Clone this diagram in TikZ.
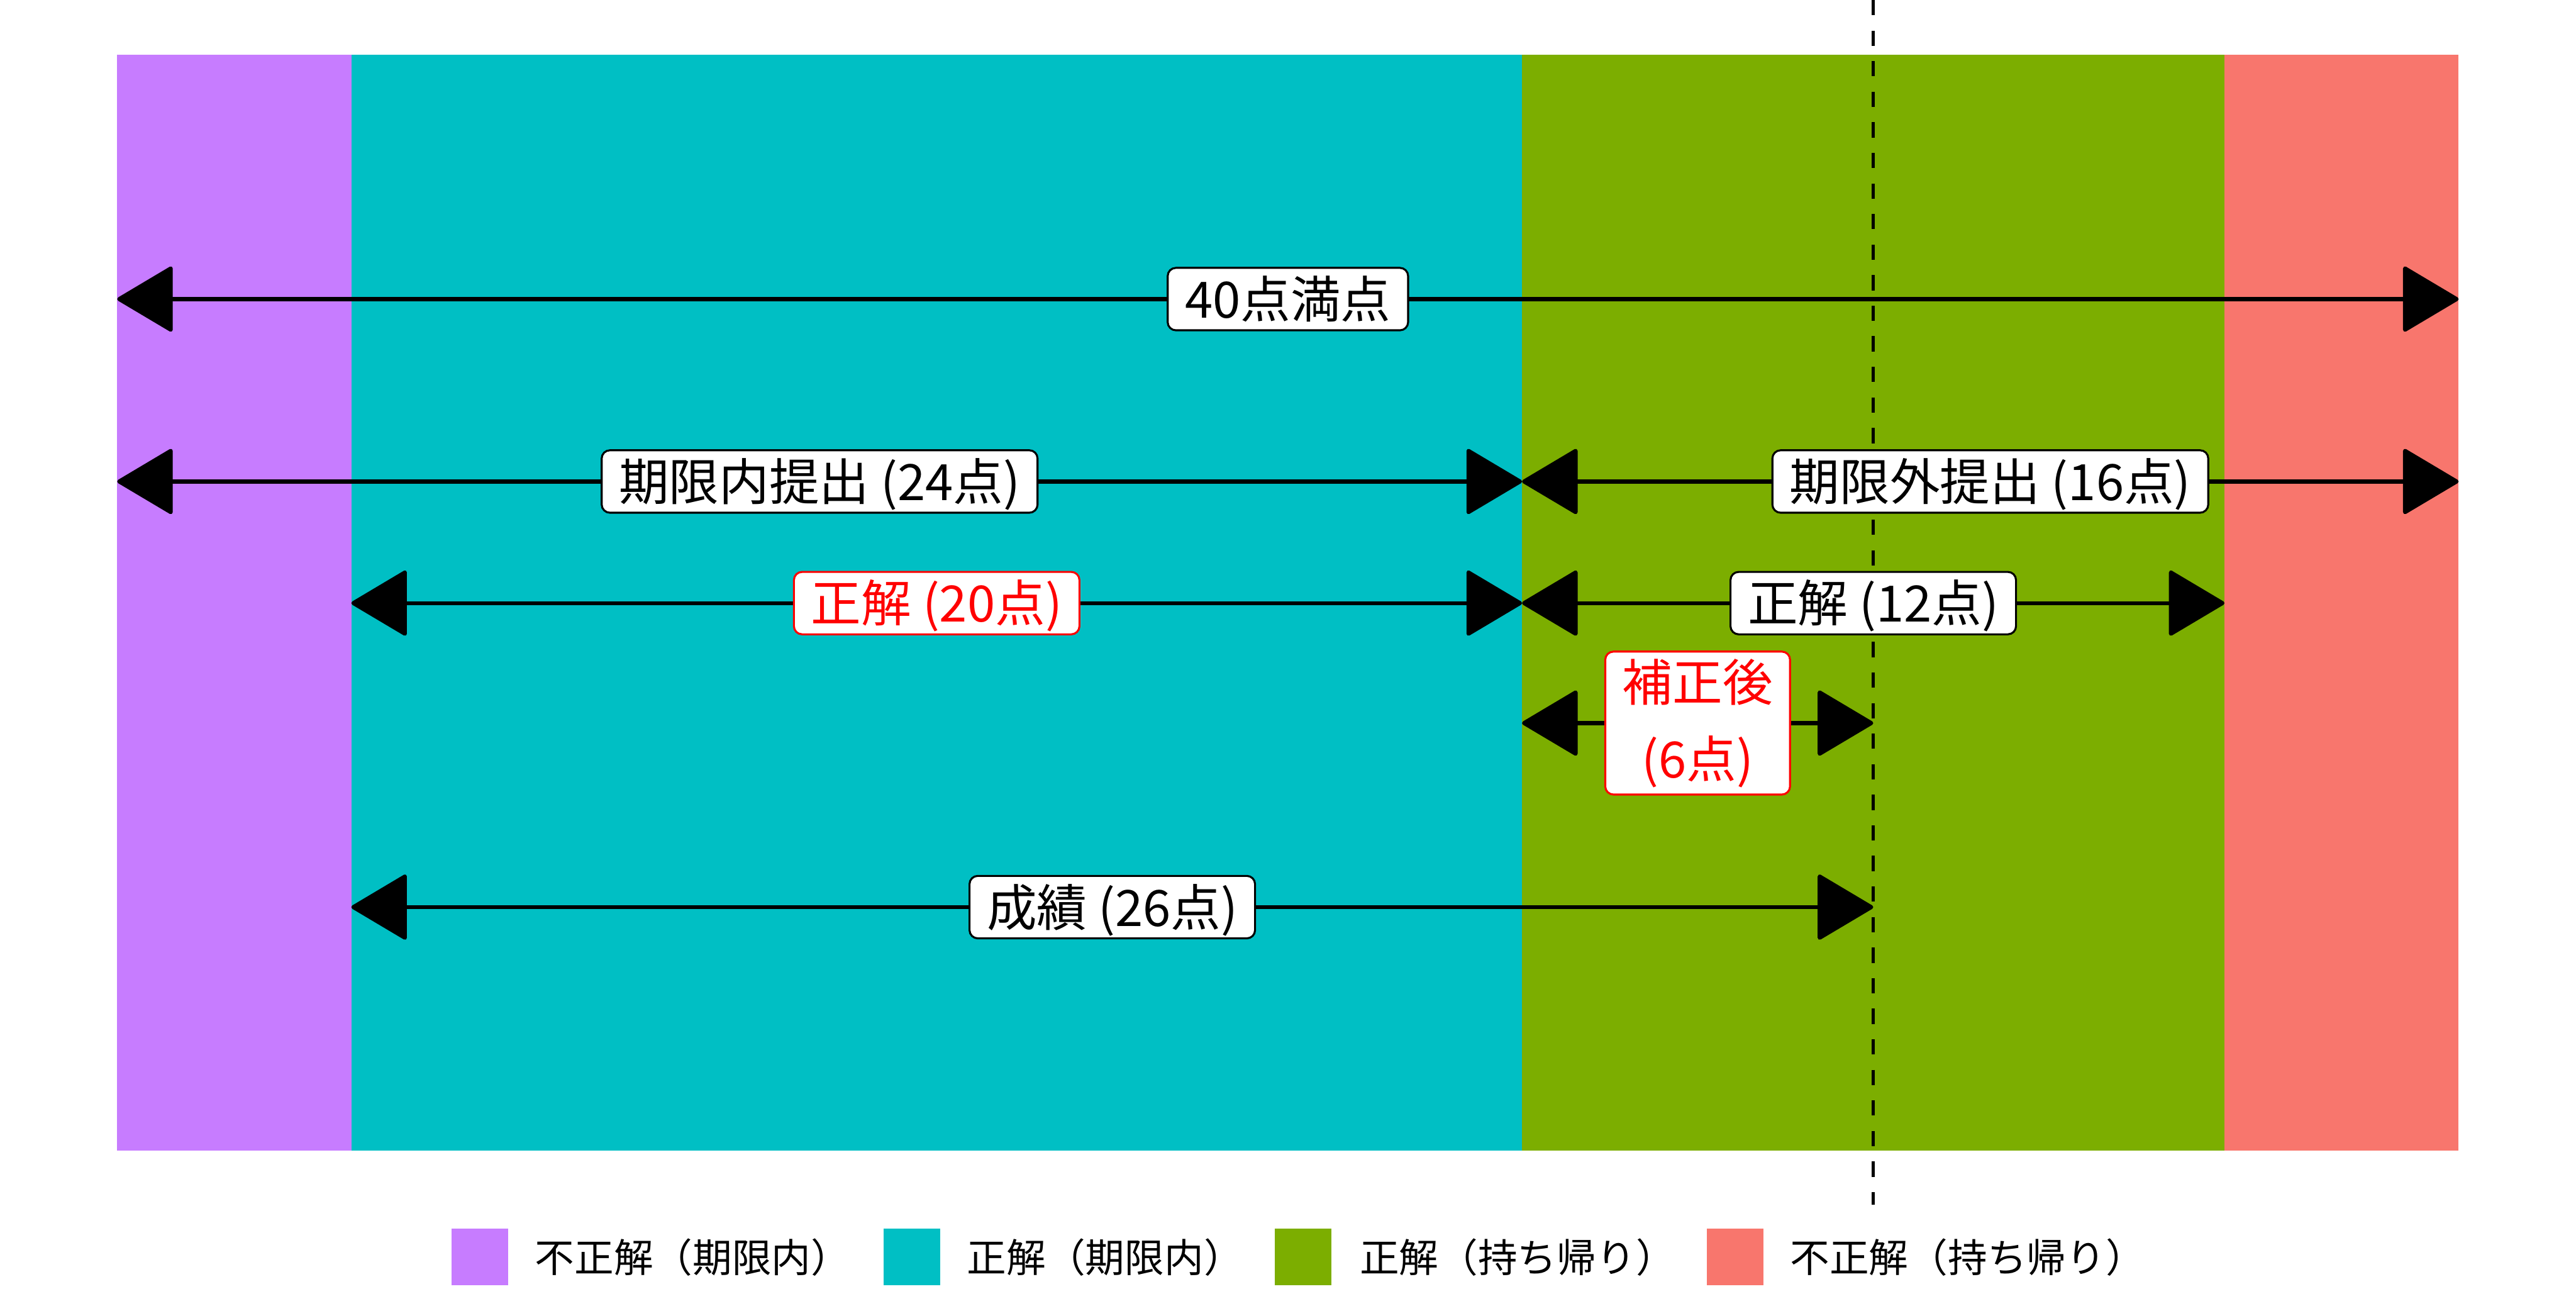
\documentclass[tikz,border=0pt]{standalone}
\usepackage{fontspec}
\setmainfont{Noto Sans CJK JP}
\usetikzlibrary{arrows.meta}
\definecolor{cpurple}{HTML}{C77CFF}
\definecolor{cteal}{HTML}{00BFC4}
\definecolor{cgreen}{HTML}{7CAE00}
\definecolor{cred}{HTML}{F8766D}
\definecolor{lblred}{HTML}{FF0000}
\begin{document}
\begin{tikzpicture}[x=1pt,y=1pt,
  tip/.tip={Triangle[length=35pt,width=41pt,round]},
  span/.style={line width=2.4pt, tip-tip},
  lbl/.style={draw=black, fill=white, rounded corners=5pt, line width=1.2pt,
    inner xsep=10.5pt, inner ysep=4.5pt, font=\fontsize{30.5}{47}\selectfont, text=black},
  oneline/.style={text height=26pt, text depth=3pt},
  redlbl/.style={lbl, draw=lblred, text=lblred},
  keybox/.style={minimum size=34.4pt, inner sep=0pt, draw=none},
  keytxt/.style={anchor=base west, inner sep=0pt, font=\fontsize{24}{28}\selectfont},
  guide/.style={line width=1.9pt, dash pattern=on 9.3pt off 9.3pt}
]
\useasboundingbox (0,0) rectangle (1568,-784);
% bands
\fill[cpurple] (71.33,-33.2) rectangle (213.85,-700.3);
\fill[cteal] (213.85,-33.2) rectangle (926.45,-700.3);
\fill[cgreen] (926.45,-33.2) rectangle (1354.01,-700.3);
\fill[cred] (1354.01,-33.2) rectangle (1496.53,-700.3);
% dashed guide
\coordinate (gtop) at (1140.23,0);
\coordinate (gbot) at (1140.23,-733);
\draw[guide] (gtop) -- (gbot);
% row 1
\coordinate (a0) at (71.33,-182);
\coordinate (a40) at (1496.53,-182);
\draw[span] (a0) -- node[lbl,oneline] (l1) {40点満点} (a40);
% row 2
\coordinate (b0) at (71.33,-293);
\coordinate (b24) at (926.45,-293);
\coordinate (b40) at (1496.53,-293);
\draw[span] (b0) -- node[lbl,oneline] (l2) {期限内提出 (24点)} (b24);
\draw[span] (b24) -- node[lbl,oneline] (l3) {期限外提出 (16点)} (b40);
% row 3
\coordinate (c4) at (213.85,-367);
\coordinate (c24) at (926.45,-367);
\coordinate (c36) at (1354.01,-367);
\draw[span] (c4) -- node[redlbl,oneline] (l4) {正解 (20点)} (c24);
\draw[span] (c24) -- node[lbl,oneline] (l5) {正解 (12点)} (c36);
% row 4
\coordinate (d24) at (926.45,-440);
\coordinate (d30) at (1140.23,-440);
\draw[span] (d24) -- node[redlbl,align=center,inner ysep=4pt] (l6)
  {\rule{0pt}{26pt}補正後\\\rule[-3pt]{0pt}{3pt}(6点)} (d30);
% row 5
\coordinate (e4) at (213.85,-552);
\coordinate (e30) at (1140.23,-552);
\draw[span] (e4) -- node[lbl,oneline] (l7) {成績 (26点)} (e30);
% legend
\node[keybox, fill=cpurple] (k1) at (292.2,-765) {};
\node[keybox, fill=cteal] (k2) at (555.2,-765) {};
\node[keybox, fill=cgreen] (k3) at (793.2,-765) {};
\node[keybox, fill=cred] (k4) at (1056.2,-765) {};
\node[keytxt] (t1) at (325.5,-774.1) {不正解（期限内）};
\node[keytxt] (t2) at (588.5,-774.1) {正解（期限内）};
\node[keytxt] (t3) at (827.5,-774.1) {正解（持ち帰り）};
\node[keytxt] (t4) at (1089.5,-774.1) {不正解（持ち帰り）};
\end{tikzpicture}
\end{document}
